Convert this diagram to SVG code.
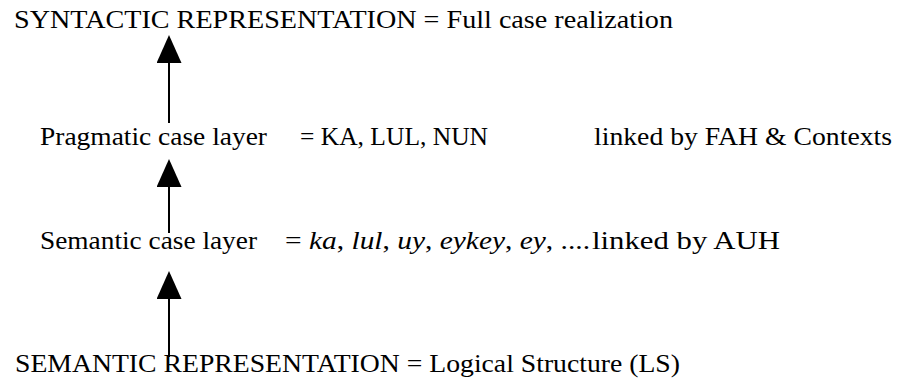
<svg xmlns="http://www.w3.org/2000/svg" width="897" height="381" viewBox="0 0 897 381">
<style>
  text { font-family: "Liberation Serif", "Times New Roman", serif; font-size: 25px; fill: #000; }
  .it { font-style: italic; }
  .conn { stroke: #000; stroke-width: 2; fill: none; }
</style>
<defs>
  <marker id="ah" markerUnits="userSpaceOnUse" viewBox="0 0 28 25" markerWidth="28" markerHeight="25" refX="0" refY="12.5" orient="auto">
    <path d="M0,0 L28,12.5 L0,25 Z" fill="#000"/>
  </marker>
</defs>
<rect width="897" height="381" fill="#fff"/>
<g id="connectors">
  <line class="conn" x1="169" y1="123" x2="169" y2="63" marker-end="url(#ah)"/>
  <line class="conn" x1="169" y1="233" x2="169" y2="187" marker-end="url(#ah)"/>
  <line class="conn" x1="169" y1="357" x2="169" y2="299" marker-end="url(#ah)"/>
</g>
<g id="syntactic">
  <text x="14" y="28" textLength="659" lengthAdjust="spacingAndGlyphs">SYNTACTIC REPRESENTATION = Full case realization</text>
</g>
<g id="pragmatic">
  <text x="40" y="145" textLength="227" lengthAdjust="spacingAndGlyphs">Pragmatic case layer</text>
  <text x="300" y="145" textLength="188" lengthAdjust="spacingAndGlyphs">= KA, LUL, NUN</text>
  <text x="594" y="145" textLength="298" lengthAdjust="spacingAndGlyphs">linked by FAH &amp; Contexts</text>
</g>
<g id="semantic-case">
  <text x="40" y="249" textLength="217" lengthAdjust="spacingAndGlyphs">Semantic case layer</text>
  <text x="285" y="249" textLength="305" lengthAdjust="spacingAndGlyphs">= <tspan class="it">ka</tspan>, <tspan class="it">lul</tspan>, <tspan class="it">uy</tspan>, <tspan class="it">eykey</tspan>, <tspan class="it">ey</tspan>, ....</text>
  <text x="592" y="249" textLength="188" lengthAdjust="spacingAndGlyphs">linked by AUH</text>
</g>
<g id="semantic">
  <text x="15" y="372" textLength="665" lengthAdjust="spacingAndGlyphs">SEMANTIC REPRESENTATION = Logical Structure (LS)</text>
</g>
</svg>
